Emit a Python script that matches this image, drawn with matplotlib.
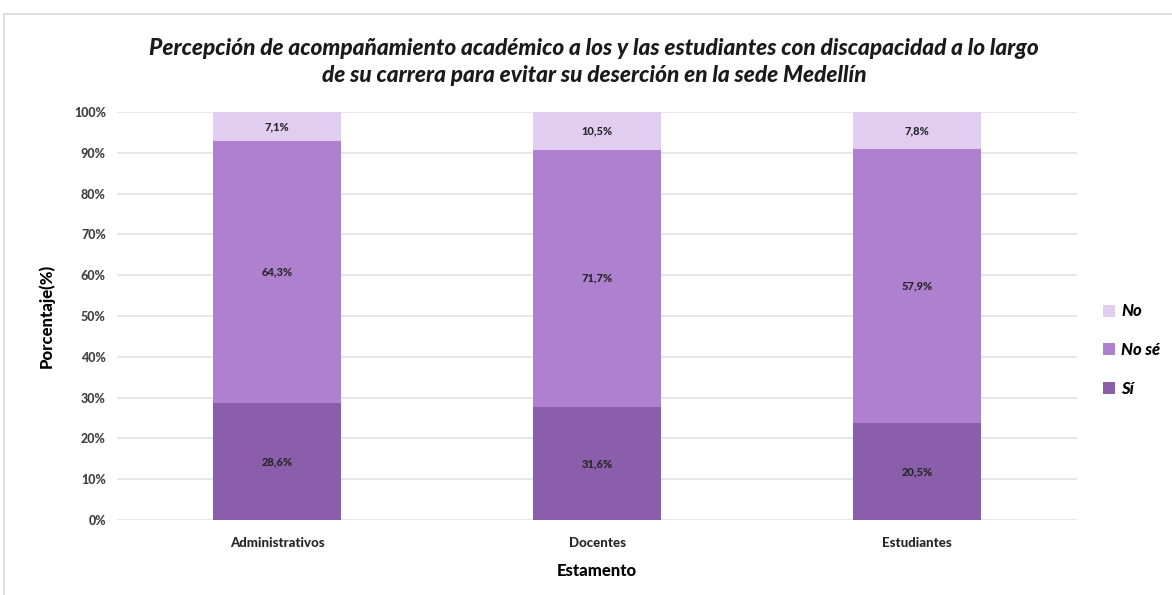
import matplotlib
matplotlib.use("Agg")
import matplotlib.pyplot as plt
from matplotlib.patches import Rectangle
import numpy as np

categories = ["Administrativos", "Docentes", "Estudiantes"]
si = [28.6, 31.6, 20.5]
no_se = [64.3, 71.7, 57.9]
no = [7.1, 10.5, 7.8]
series_names = ["Sí", "No sé", "No"]
colors = ["#8A5EAB", "#B080D0", "#E1CDF0"]
yticks = list(range(0, 101, 10))

plt.rcParams['font.family'] = ['Lato', 'DejaVu Sans']
W = "black"

fig = plt.figure(figsize=(11.72, 5.95), dpi=100)
fig.patches.append(Rectangle((4/1172, -0.1), 1.2, 1 - 14/595 + 0.1, transform=fig.transFigure,
                             fill=False, edgecolor="#d9d9d9", linewidth=1.2))
ax = fig.add_axes([117/1172, 1 - 520/595, (1077-117)/1172, (520-112)/595])

vals = np.array([si, no_se, no])
totals = vals.sum(axis=0)
pct = vals / totals * 100
x = np.arange(len(categories))
bottom = np.zeros(len(categories))
for i, name in enumerate(series_names):
    ax.bar(x, pct[i], 0.4, bottom=bottom, color=colors[i], label=name, zorder=3)
    for j in range(len(categories)):
        ax.text(x[j], bottom[j] + pct[i][j] / 2, f"{vals[i][j]:.1f}%".replace(".", ","),
                ha="center", va="center", fontsize=8, fontweight=W, color="#262626", zorder=4)
    bottom += pct[i]

ax.set_xlim(-0.5, 2.5)
ax.set_ylim(0, 100)
ax.set_yticks(yticks)
ax.set_yticklabels([f"{t}%" for t in yticks], fontsize=9, fontweight=W, color="#404040")
ax.set_xticks(x)
ax.set_xticklabels(categories, fontsize=9.5, fontweight=W, color="#262626")
ax.tick_params(length=0, pad=8)
ax.tick_params(axis="x", pad=12)
ax.grid(axis="y", color="#e3e3e3", linewidth=1.2, zorder=0)
for s in ax.spines.values():
    s.set_visible(False)
ax.set_ylabel("Porcentaje(%)", fontsize=12, fontweight=W, labelpad=14)
ax.set_xlabel("Estamento", fontsize=12, fontweight=W, labelpad=10)

fig.text(594/1172, 1 - 62/595,
         "Percepción de acompañamiento académico a los y las estudiantes con discapacidad a lo largo\nde su carrera para evitar su deserción en la sede Medellín",
         ha="center", va="center", fontsize=16.3, fontweight=W, style="italic", linespacing=1.3, color="#1a1a1a")

handles, labels = ax.get_legend_handles_labels()
fig.legend(handles[::-1], labels[::-1], loc="center left", bbox_to_anchor=(1088/1172, 1 - 350/595),
           frameon=False, handlelength=0.7, handleheight=0.7, labelspacing=1.35, handletextpad=0.4,
           prop={"size": 12, "weight": W, "style": "italic"})

fig.savefig("out.png", dpi=100, facecolor="white")
